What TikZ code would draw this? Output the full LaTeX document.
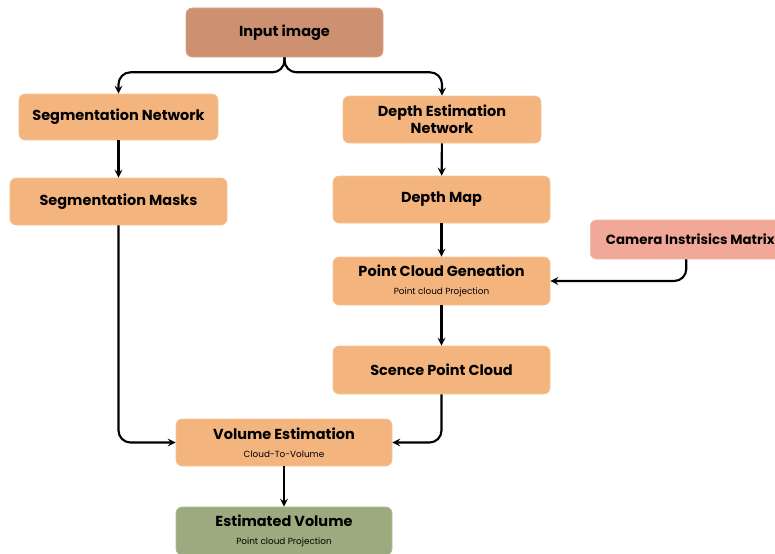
\documentclass[tikz,border=0pt]{standalone}
\usepackage{fontspec}
\setmainfont{Poppins}
\usetikzlibrary{arrows}
\definecolor{boxorange}{HTML}{F4B47E}
\definecolor{boxbrown}{HTML}{CD9070}
\definecolor{boxpink}{HTML}{F2A898}
\definecolor{boxgreen}{HTML}{9DAA80}
\tikzstyle{block} = [rectangle, rounded corners=0.15cm, minimum width=5.4cm, minimum height=1.175cm, text centered, align=center, draw=boxorange!80!white, fill=boxorange, font=\fontsize{10.3}{12}\selectfont\bfseries]
\tikzstyle{arrow} = [line width=1.5pt,->,>=stealth,rounded corners=0.3cm]
\newcommand{\sub}[1]{\\[1pt]{\fontsize{6.3}{7}\selectfont\mdseries #1}}

\begin{document}
\begin{tikzpicture}

\useasboundingbox (0,0) rectangle (19.375,-13.825);

\node (input) [block, fill=boxbrown, draw=boxbrown!80!white, minimum width=4.925cm, minimum height=1.225cm] at (7.1125,-0.8125) {Input image};
\node (segnet) [block, minimum width=4.975cm, minimum height=1.15cm] at (2.9625,-2.925) {Segmentation Network};
\node (depthnet) [block, minimum width=4.95cm] at (11.05,-2.9875) {Depth Estimation\\[0pt]Network};
\node (segmasks) [block, minimum width=5.425cm] at (2.9625,-5.0375) {Segmentation Masks};
\node (depthmap) [block, minimum width=5.425cm] at (11.0375,-4.9875) {Depth Map};
\node (camera) [block, fill=boxpink, draw=boxpink!80!white, anchor=west, minimum width=5cm, minimum height=0.975cm, inner sep=0.12cm, font=\fontsize{9.5}{11}\selectfont\bfseries] at (14.75,-5.9875) {Camera Instrisics Matrix};
\node (pcgen) [block, minimum width=5.425cm, minimum height=1.2cm] at (11.0375,-7.025) {Point Cloud Geneation\sub{Point cloud Projection}};
\node (scence) [block, minimum width=5.425cm, minimum height=1.2cm] at (11.0375,-9.25) {Scence Point Cloud};
\node (volest) [block] at (7.1,-11.0625) {Volume Estimation\sub{Cloud-To-Volume}};
\node (estvol) [block, fill=boxgreen, draw=boxgreen!80!white, minimum height=1.2cm] at (7.1,-13.275) {Estimated Volume\sub{Point cloud Projection}};

\coordinate (split) at ([yshift=-0.375cm]input.south);

\draw [arrow] (input.south) -- (split) -| (segnet.north);
\draw [arrow] (input.south) -- (split) -| (depthnet.north);
\draw [arrow] (segnet) -- (segmasks);
\draw [arrow] (depthnet) -- (depthmap);
\draw [arrow] (depthmap) -- (pcgen);
\draw [arrow] ([xshift=-0.1cm]camera.south) |- (pcgen.east);
\draw [arrow] (pcgen) -- (scence);
\draw [arrow] (segmasks.south) |- (volest.west);
\draw [arrow] (scence.south) |- (volest.east);
\draw [arrow] (volest) -- (estvol);

\end{tikzpicture}
\end{document}
